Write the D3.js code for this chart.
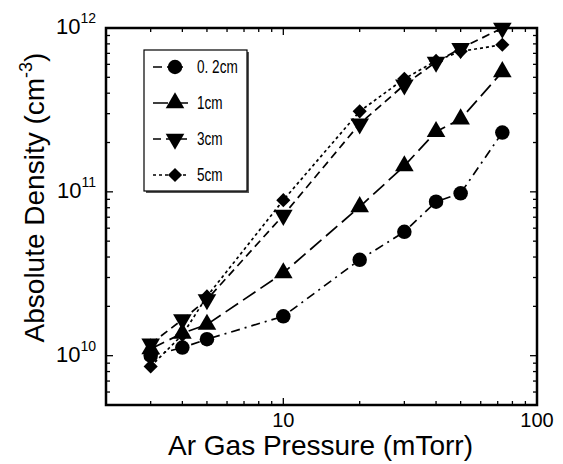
<!DOCTYPE html>
<html>
  <head>
    <meta charset="utf-8">
    <title>Absolute Density vs Ar Gas Pressure</title>
    <script src="https://cdn.jsdelivr.net/npm/d3@7/dist/d3.min.js" charset="utf-8"></script>
    <style>
      body { margin: 0; background: #fff; }
      text { font-family: "Liberation Sans", Arial, sans-serif; fill: #000; }
      .legend text { font-family: "Liberation Sans Narrow", "Arial Narrow", "Liberation Sans", sans-serif; }
    </style>
  </head>
  <body>
    <svg class="chart"></svg>
    <script>
// pressure (mTorr) for each measurement
var pressure = [3, 4, 5, 10, 20, 30, 40, 50, 73];

// absolute density (cm^-3) per distance
var d02 = [1.0e10, 1.12e10, 1.26e10, 1.74e10, 3.85e10, 5.7e10, 8.7e10, 9.8e10, 2.3e11];
var d1  = [1.1e10, 1.37e10, 1.55e10, 3.2e10, 8.1e10, 1.44e11, 2.33e11, 2.78e11, 5.4e11];
var d3v = [1.18e10, 1.66e10, 2.2e10, 7.2e10, 2.6e11, 4.5e11, 6.2e11, 7.5e11, 1.0e12];
var d5  = [8.6e9, 1.34e10, 2.3e10, 8.9e10, 3.1e11, 4.9e11, 6.3e11, 7.2e11, 7.9e11];

var seriesNames = ["0. 2cm", "1cm", "3cm", "5cm"];
var xTicks = [10, 100];
var yTicks = [1e10, 1e11, 1e12];

var W = 563, H = 464;
var margin = {top: 28, right: 26, bottom: 59, left: 106};

var svg = d3.select("svg")
    .attr("width", W)
    .attr("height", H);

var x = d3.scaleLog().domain([2, 100]).range([margin.left, W - margin.right]);
var y = d3.scaleLog().domain([5e9, 1e12]).range([H - margin.bottom, margin.top]);

// styles per series: dash pattern + marker symbol
var styles = [
  {dash: "9,5,2,5", sym: d3.symbolCircle, size: 165, rot: 0},
  {dash: "15,6", sym: d3.symbolTriangle, size: 150, rot: 0},
  {dash: "8,5", sym: d3.symbolTriangle, size: 150, rot: 180},
  {dash: "3,3", sym: d3.symbolSquare, size: 100, rot: 45}
];
var allData = [d02, d1, d3v, d5];

// minor + major ticks, inside on all four sides
var xAll = [];
[1, 10].forEach(function(dec) {
  for (var k = 1; k < 10; k++) {
    var v = dec * k;
    if (v >= 2 && v <= 100) xAll.push(v);
  }
});
xAll.push(100);
var yAll = [];
[1e9, 1e10, 1e11].forEach(function(dec) {
  for (var k = 1; k < 10; k++) {
    var v = dec * k;
    if (v >= 5e9 && v <= 1e12) yAll.push(v);
  }
});
yAll.push(1e12);

var x0 = x.range()[0], x1 = x.range()[1], y0 = y.range()[0], y1 = y.range()[1];

var axes = svg.append("g").attr("stroke", "#000").attr("stroke-width", 1.3);
xAll.forEach(function(v) {
  var len = xTicks.indexOf(v) >= 0 ? 7 : 4;
  axes.append("line").attr("x1", x(v)).attr("x2", x(v)).attr("y1", y0).attr("y2", y0 - len);
  axes.append("line").attr("x1", x(v)).attr("x2", x(v)).attr("y1", y1).attr("y2", y1 + len);
});
yAll.forEach(function(v) {
  var len = yTicks.indexOf(v) >= 0 ? 7 : 4;
  axes.append("line").attr("x1", x0).attr("x2", x0 + len).attr("y1", y(v)).attr("y2", y(v));
  axes.append("line").attr("x1", x1).attr("x2", x1 - len).attr("y1", y(v)).attr("y2", y(v));
});

svg.append("rect")
    .attr("x", x0).attr("y", y1)
    .attr("width", x1 - x0).attr("height", y0 - y1)
    .attr("fill", "none").attr("stroke", "#000").attr("stroke-width", 2.5);

// tick labels
xTicks.forEach(function(v) {
  svg.append("text")
      .attr("x", x(v)).attr("y", y0 + 22)
      .attr("text-anchor", "middle")
      .style("font-size", "20px")
      .text(v);
});
yTicks.forEach(function(v) {
  var t = svg.append("text")
      .attr("x", x0 - 10).attr("y", y(v) + 6)
      .attr("text-anchor", "end")
      .style("font-size", "22px");
  t.append("tspan").text("10");
  t.append("tspan").attr("dy", -11).style("font-size", "14px").text(Math.round(Math.log10(v)));
});

// axis titles
svg.append("text")
    .attr("x", (x0 + x1) / 2 - 1).attr("y", H - 9)
    .attr("text-anchor", "middle")
    .style("font-size", "28px")
    .text("Ar Gas Pressure (mTorr)");

var yl = svg.append("text")
    .attr("transform", "translate(44," + ((y0 + y1) / 2 - 19) + ")rotate(-90)")
    .attr("text-anchor", "middle")
    .style("font-size", "28px");
yl.append("tspan").text("Absolute Density (cm");
yl.append("tspan").attr("dy", -12).style("font-size", "18px").text("-3");
yl.append("tspan").attr("dy", 12).text(")");

// series lines + markers
var line = d3.line()
    .x(function(d) { return x(d[0]); })
    .y(function(d) { return y(d[1]); });

allData.forEach(function(vals, i) {
  var pts = pressure.map(function(p, j) { return [p, vals[j]]; });
  svg.append("path")
      .datum(pts)
      .attr("d", line)
      .attr("fill", "none")
      .attr("stroke", "#000")
      .attr("stroke-width", 1.7)
      .attr("stroke-dasharray", styles[i].dash);
  svg.selectAll(".m" + i)
      .data(pts)
    .enter().append("path")
      .attr("class", "m" + i)
      .attr("d", d3.symbol().type(styles[i].sym).size(styles[i].size))
      .attr("transform", function(d) {
        return "translate(" + x(d[0]) + "," + y(d[1]) + ")rotate(" + styles[i].rot + ")";
      })
      .attr("fill", "#000");
});

// legend
var lg = svg.append("g").attr("class", "legend");
lg.append("rect")
    .attr("x", 146).attr("y", 52).attr("width", 103).attr("height", 141)
    .attr("fill", "#555");
lg.append("rect")
    .attr("x", 144).attr("y", 50).attr("width", 103).attr("height", 141)
    .attr("fill", "#fff").attr("stroke", "#000").attr("stroke-width", 1.2);

seriesNames.forEach(function(name, i) {
  var ly = 67 + i * 36;
  lg.append("line")
      .attr("x1", 153).attr("x2", 188).attr("y1", ly).attr("y2", ly)
      .attr("stroke", "#000").attr("stroke-width", 1.7)
      .attr("stroke-dasharray", styles[i].dash);
  lg.append("path")
      .attr("d", d3.symbol().type(styles[i].sym).size(styles[i].size))
      .attr("transform", "translate(175," + ly + ")rotate(" + styles[i].rot + ")")
      .attr("fill", "#000");
  lg.append("text")
      .attr("transform", "translate(197," + (ly + 6) + ")scale(0.85,1.1)")
      .style("font-size", "16px")
      .text(name);
});
    </script>
  </body>
</html>
